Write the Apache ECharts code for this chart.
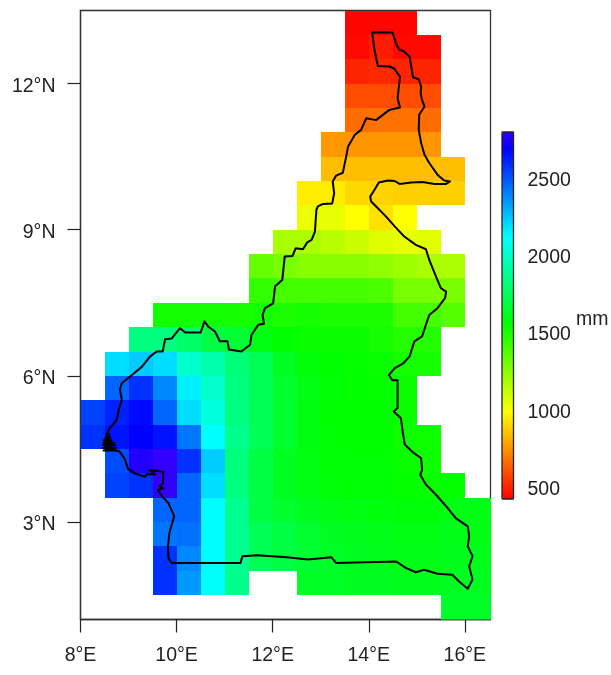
<!DOCTYPE html>
<html>
<head>
<meta charset="utf-8">
<style>html,body{margin:0;padding:0;background:#fff}#c{width:611px;height:675px}</style>
<script src="https://cdn.jsdelivr.net/npm/echarts@6/dist/echarts.min.js"></script>
</head>
<body>
<div id="c"></div>
<script>
const N = null;
const lons = [8.25,8.75,9.25,9.75,10.25,10.75,11.25,11.75,12.25,12.75,13.25,13.75,14.25,14.75,15.25,15.75,16.25];
const lats = [13.25,12.75,12.25,11.75,11.25,10.75,10.25,9.75,9.25,8.75,8.25,7.75,7.25,6.75,6.25,5.75,5.25,4.75,4.25,3.75,3.25,2.75,2.25,1.75,1.25];
const rain13 = [N,N,N,N,N,N,N,N,N,N,N,430,430,430,N,N,N];
const rain12a = [N,N,N,N,N,N,N,N,N,N,N,440,480,440,440,N,N];
const rain12b = [N,N,N,N,N,N,N,N,N,N,N,500,510,500,500,N,N];
const rain11a = [N,N,N,N,N,N,N,N,N,N,N,590,590,590,590,N,N];
const rain11b = [N,N,N,N,N,N,N,N,N,N,N,660,670,670,660,N,N];
const rain10a = [N,N,N,N,N,N,N,N,N,N,760,750,750,750,750,N,N];
const rain10b = [N,N,N,N,N,N,N,N,N,N,840,840,840,840,840,840,N];
const rain9a = [N,N,N,N,N,N,N,N,N,945,945,900,890,880,880,880,N];
const rain9b = [N,N,N,N,N,N,N,N,N,1030,1040,985,920,985,N,N,N];
const rain8a = [N,N,N,N,N,N,N,N,1175,1170,1140,1100,1060,1040,1050,N,N];
const rain8b = [N,N,N,N,N,N,N,1325,1285,1250,1250,1250,1230,1200,1170,1170,N];
const rain7a = [N,N,N,N,N,N,N,1440,1400,1400,1400,1400,1380,1285,1285,1285,N];
const rain7b = [N,N,N,1510,1510,1510,1500,1510,1490,1500,1490,1490,1490,1400,1400,1360,N];
const rain6a = [N,N,1830,1830,1776,1700,1660,1590,1550,1530,1530,1530,1500,1470,1470,N,N];
const rain6b = [N,2190,2230,2190,2000,1930,1810,1740,1620,1570,1550,1540,1535,1500,1500,N,N];
const rain5a = [N,2455,2570,2380,2150,2000,1830,1740,1650,1590,1560,1545,1540,1530,N,N,N];
const rain5b = [2530,2605,2660,2455,2190,2040,1830,1740,1650,1580,1550,1545,1545,1530,N,N,N];
const rain4a = [2570,2640,2680,2640,2420,2115,1860,1740,1650,1580,1555,1550,1550,1520,1520,N,N];
const rain4b = [N,2510,2755,2793,2570,2230,1830,1700,1620,1585,1560,1555,1555,1530,1520,N,N];
const rain3a = [N,2530,2570,2793,2455,2190,1830,1700,1620,1585,1565,1555,1555,1540,1530,1540,N];
const rain3b = [N,N,N,2455,2455,2120,1870,1700,1650,1620,1600,1585,1575,1565,1565,1590,1590];
const rain2a = [N,N,N,2420,2430,2120,1870,1740,1700,1650,1620,1610,1600,1590,1590,1600,1600];
const rain2b = [N,N,N,2570,2380,2120,1870,1740,1700,1660,1640,1620,1610,1600,1600,1610,1610];
const rain1a = [N,N,N,2570,2340,2100,1860,N,N,1630,1630,1620,1620,1610,1610,1620,1620];
const rain1b = [N,N,N,N,N,N,N,N,N,N,N,N,N,N,N,1640,1640];
const rainRows = [rain13,rain12a,rain12b,rain11a,rain11b,rain10a,rain10b,rain9a,rain9b,rain8a,rain8b,rain7a,rain7b,rain6a,rain6b,rain5a,rain5b,rain4a,rain4b,rain3a,rain3b,rain2a,rain2b,rain1a,rain1b];

const borderNorth = [[14.07,13.05],[14.49,13.05],[14.535,12.93],[14.58,12.79],[14.64,12.70],[14.74,12.655],[14.85,12.55],[14.88,12.38],[14.92,12.13],[15.04,12.09],[15.09,11.94],[15.08,11.80],[15.11,11.66],[15.16,11.53],[15.05,11.36],[15.04,11.05],[15.09,10.78],[15.16,10.54],[15.26,10.37],[15.43,10.13],[15.57,10.01],[15.69,9.99],[15.61,9.94],[15.37,9.94],[15.12,9.98],[14.88,9.97],[14.64,9.94],[14.54,10.0],[14.40,10.01],[14.21,9.97],[14.12,9.82],[14.03,9.68],[14.05,9.58],[14.19,9.44]];
const borderEast = [[14.36,9.27],[14.54,9.07],[14.74,8.86],[14.98,8.69],[15.19,8.60],[15.26,8.38],[15.37,8.11],[15.50,7.80],[15.61,7.73],[15.59,7.60],[15.43,7.39],[15.26,7.25],[15.19,7.05],[15.11,6.81],[14.95,6.71],[14.85,6.40],[14.71,6.25],[14.54,6.16],[14.42,6.02],[14.49,5.91],[14.60,5.91],[14.60,5.51],[14.64,5.48],[14.60,5.34],[14.52,5.27],[14.67,5.13],[14.69,5.10],[14.71,4.83],[14.75,4.59],[14.92,4.43],[15.09,4.31],[15.11,4.07],[15.07,3.97],[15.19,3.77],[15.40,3.56],[15.64,3.29],[15.81,3.08],[16.06,2.91],[16.09,2.71],[16.06,2.50],[16.16,2.30],[16.09,2.09],[16.16,1.82],[16.06,1.63]];
const borderSouth = [[15.88,1.78],[15.74,1.92],[15.43,1.94],[15.26,1.99],[15.15,2.02],[14.98,1.97],[14.77,2.06],[14.57,2.19],[13.32,2.16],[13.22,2.28],[12.74,2.23],[12.29,2.28],[11.67,2.32],[11.37,2.30],[11.33,2.16],[9.90,2.16],[9.83,2.26],[9.82,2.50],[9.85,2.78],[9.95,3.12],[9.83,3.39],[9.68,3.55],[9.61,3.66],[9.72,3.69],[9.64,3.74],[9.72,3.80],[9.72,4.03],[9.44,4.07],[9.56,3.98],[9.38,3.98],[9.34,3.93],[9.13,4.0],[8.99,4.09],[8.92,4.3]];
const borderWest = [[8.80,4.46],[8.72,4.47],[8.48,4.47],[8.74,4.52],[8.47,4.52],[8.72,4.58],[8.47,4.58],[8.70,4.63],[8.48,4.63],[8.64,4.68],[8.49,4.68],[8.62,4.74],[8.52,4.74],[8.60,4.80],[8.54,4.80],[8.61,4.93],[8.75,5.09],[8.80,5.31],[8.86,5.51],[8.82,5.72],[8.86,5.85],[9.07,6.02],[9.28,6.19],[9.45,6.40],[9.59,6.50],[9.71,6.50],[9.76,6.75],[9.90,6.77],[10.07,6.98],[10.18,6.89],[10.50,6.89],[10.58,7.12],[10.66,7.01],[10.80,6.91],[10.90,6.71],[11.06,6.71],[11.09,6.54],[11.35,6.50],[11.53,6.64],[11.56,6.84],[11.70,7.05],[11.82,7.07],[11.79,7.25],[11.84,7.39],[12.01,7.49],[12.05,7.84],[12.20,7.97],[12.25,8.45],[12.41,8.46],[12.48,8.62],[12.63,8.60],[12.72,8.74],[12.81,8.79],[12.88,8.96],[12.91,9.41]];
const borderNorthWest = [[12.94,9.48],[13.05,9.53],[13.24,9.54],[13.28,9.75],[13.25,9.99],[13.32,10.11],[13.46,10.17],[13.53,10.50],[13.57,10.71],[13.71,10.95],[13.84,11.05],[13.95,11.29],[14.15,11.25],[14.43,11.46],[14.65,11.51],[14.60,11.70],[14.65,12.14],[14.53,12.31],[14.43,12.35],[14.19,12.36],[14.12,12.69],[14.07,13.05]];
const border = [].concat(borderNorth,borderEast,borderSouth,borderWest,borderNorthWest);

const lonTicks = [8,10,12,14,16];
const latTicks = [3,6,9,12];
const barTicks = [500,1000,1500,2000,2500];
const rainMin = 420, rainMax = 2793;
const unitLabel = 'mm';

const cells = [];
rainRows.forEach((row,j)=>row.forEach((v,i)=>{ if(v!==null) cells.push([lons[i],lats[j],v]); }));

function hsv(h){
  const f=k=>{const n=(k+h/60)%6; return Math.round(255*(1-Math.max(0,Math.min(n,4-n,1))));};
  const hx=x=>x.toString(16).padStart(2,'0');
  return '#'+hx(f(5))+hx(f(3))+hx(f(1));
}
const ramp=[]; for(let h=0;h<=252;h+=6) ramp.push(hsv(h));

const FONT='"Liberation Sans", Arial, sans-serif';
const INK='#222';
const FS=19.5;
const LON_MAX=16.534;
const axisBase={
  axisLine:{show:true,onZero:false,lineStyle:{color:'#333',width:1.3}},
  axisTick:{show:true,length:13,lineStyle:{color:'#222',width:1.2}},
  splitLine:{show:false}
};
const chart=echarts.init(document.getElementById('c'),null,{renderer:'canvas'});
chart.setOption({
  backgroundColor:'#fff',
  animation:false,
  grid:[
    {left:80.5,top:10.5,width:410,height:609,show:true,borderColor:'#333',borderWidth:1.3,backgroundColor:'transparent'},
    {left:502,top:132,width:11.5,height:367,show:false}
  ],
  xAxis:[
    {type:'value',gridIndex:0,min:8,max:LON_MAX,...axisBase,
      axisTick:{...axisBase.axisTick,customValues:lonTicks},
      axisLabel:{customValues:lonTicks,formatter:v=>v+'°E',color:INK,fontFamily:FONT,fontSize:FS,margin:26}},
    {type:'value',gridIndex:1,min:0,max:1,show:false}
  ],
  yAxis:[
    {type:'value',gridIndex:0,min:1,max:13.5,...axisBase,
      axisTick:{...axisBase.axisTick,customValues:latTicks},
      axisLabel:{customValues:latTicks,formatter:v=>v+'°N',color:INK,fontFamily:FONT,fontSize:FS,margin:25,verticalAlign:'top',lineHeight:6}},
    {type:'value',gridIndex:1,min:rainMin,max:rainMax,position:'right',
      axisLine:{show:false},
      axisTick:{show:true,length:8,lineStyle:{color:'#222',width:1.2},customValues:barTicks},
      axisLabel:{customValues:barTicks,formatter:v=>String(v),color:INK,fontFamily:FONT,fontSize:FS,margin:14,verticalAlign:'top',lineHeight:6},
      splitLine:{show:false}}
  ],
  visualMap:{
    type:'continuous',seriesIndex:0,dimension:2,min:rainMin,max:rainMax,
    inRange:{color:ramp},
    orient:'vertical',left:502,top:132,itemWidth:11.5,itemHeight:367,
    padding:0,text:null,calculable:false,hoverLink:false,realtime:false,showLabel:false
  },
  graphic:[{type:'text',left:576,top:310,silent:true,
    style:{text:unitLabel,fill:INK,font:FS+'px '+FONT}}],
  series:[
    {type:'custom',xAxisIndex:0,yAxisIndex:0,data:cells,encode:{x:0,y:1},silent:true,z:2,clip:true,
      renderItem:(params,api)=>{
        const lo=api.value(0),la=api.value(1);
        const a=api.coord([lo-0.25,la+0.25]);
        const b=api.coord([lo+0.25>=16.5?LON_MAX:lo+0.25,la-0.25]);
        const x=Math.round(a[0]),y=Math.round(a[1]);
        return {type:'rect',shape:{x:x,y:y,width:Math.round(b[0])-x,height:Math.round(b[1])-y},
          style:{fill:api.visual('color')}};
      }},
    {type:'line',xAxisIndex:0,yAxisIndex:0,data:border,showSymbol:false,silent:true,z:3,
      lineStyle:{color:'#000',width:2,join:'round'},itemStyle:{color:'#000'}},
    {type:'line',xAxisIndex:1,yAxisIndex:1,data:[[0,rainMin],[1,rainMin],[1,rainMax],[0,rainMax],[0,rainMin]],
      showSymbol:false,silent:true,z:6,clip:false,lineStyle:{color:'#222',width:1.3},itemStyle:{color:'#222'}}
  ]
});
</script>
</body>
</html>
